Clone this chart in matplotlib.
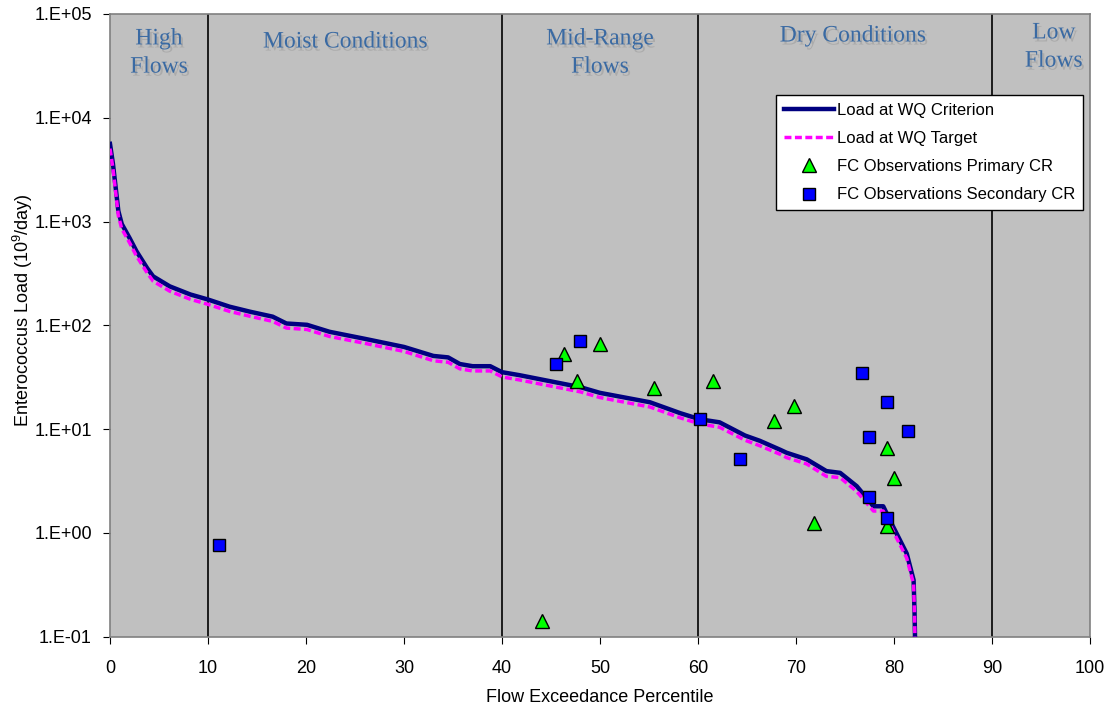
import matplotlib.pyplot as plt
import matplotlib.patheffects as pe

plt.rcParams["font.family"] = ["Liberation Sans", "DejaVu Sans"]
plt.rcParams["mathtext.fontset"] = "custom"
plt.rcParams["mathtext.rm"] = "Liberation Sans"
plt.rcParams["mathtext.default"] = "regular"

# load duration curve
flow_pct = [0, 0.3, 0.5, 0.85, 1.2, 2.0, 2.7, 3.8, 4.4, 6.1, 8.2, 10.0, 12.2, 14.3,
            16.6, 18.0, 20.1, 22.4, 26, 30, 33, 34.5, 35.7, 37, 38.8, 40, 41.8, 48,
            50, 55.1, 58.2, 60.2, 62.2, 64.8, 66.3, 68.4, 69.05, 71.1, 73.1, 74.5,
            76.2, 77.9, 78.9, 79.9, 81.3, 82.0, 82.1, 82.2]
load_criterion = [5600, 3600, 2470, 1265, 946, 692, 517, 354, 296, 237, 198, 177, 151, 135,
                  121, 104, 101, 86.5, 74, 61.8, 50.6, 49, 42.3, 40.3, 40.3, 35.3, 33, 25.3,
                  22.3, 18.1, 14.2, 12.4, 11.6, 8.65, 7.7, 6.3, 5.9, 5.1, 3.93, 3.78,
                  2.81, 1.80, 1.80, 1.15, 0.63, 0.35, 0.166, 0.05]
load_target = [5040, 3240, 2223, 1139, 851, 623, 465, 319, 266, 213, 178, 159, 136, 122,
               109, 94, 91, 78, 67, 56, 45.5, 44, 38, 36.3, 36.3, 31.8, 29.7, 22.8,
               20.1, 16.3, 12.8, 11.2, 10.4, 7.8, 6.9, 5.7, 5.3, 4.6, 3.5, 3.4,
               2.5, 1.62, 1.62, 1.04, 0.57, 0.32, 0.15, 0.045]

# observations
primary_x = [44.1, 46.3, 50.0, 47.7, 55.5, 61.5, 69.8, 67.8, 79.3, 80.0, 71.8, 79.3]
primary_y = [0.14, 53, 66.5, 28.7, 24.7, 28.7, 16.8, 12.0, 6.5, 3.4, 1.25, 1.15]
secondary_x = [11.1, 45.5, 48.0, 60.2, 64.3, 76.7, 79.3, 81.4, 77.4, 77.4, 79.3]
secondary_y = [0.76, 42.3, 70.7, 12.4, 5.1, 34.6, 18.1, 9.6, 8.3, 2.2, 1.38]

zone_bounds = [10, 40, 60, 90]
zone_names = ["High\nFlows", "Moist Conditions", "Mid-Range\nFlows", "Dry Conditions", "Low\nFlows"]
zone_x = [5, 24, 50, 75.8, 96.3]
zone_y = [53, 42, 53, 36, 47]   # pixels from top of figure

W, H = 1112, 715
ax_top, ax_bot = 14, 636.5

fig = plt.figure(figsize=(W / 100, H / 100), dpi=100)
ax = fig.add_axes([110 / W, 1 - ax_bot / H, 980 / W, (ax_bot - ax_top) / H])
ax.set_facecolor("#C0C0C0")

for b in zone_bounds:
    ax.axvline(b, color="black", lw=1.2, zorder=1)

ax.plot(flow_pct, load_criterion, color="#000080", lw=3.2, label="Load at WQ Criterion", zorder=3)
ax.plot(flow_pct, load_target, color="#FF00FF", lw=2.5, dashes=(2, 1), label="Load at WQ Target", zorder=4)
ax.plot(primary_x, primary_y, ls="none", marker="^", ms=10, mfc="#00FF00", mec="black", mew=1,
        label="FC Observations Primary CR", zorder=5)
ax.plot(secondary_x, secondary_y, ls="none", marker="s", ms=9, mfc="#0000FF", mec="black", mew=1,
        label="FC Observations Secondary CR", zorder=5)

ax.set_yscale("log")
ax.set_xlim(0, 100)
ax.set_ylim(0.1, 1e5)
ax.set_xticks(range(0, 101, 10))
ax.set_yticks([0.1, 1, 10, 100, 1000, 1e4, 1e5])
ax.set_yticklabels(["1.E-01", "1.E+00", "1.E+01", "1.E+02", "1.E+03", "1.E+04", "1.E+05"])
ax.minorticks_off()
ax.tick_params(axis="both", labelsize=13, length=5, direction="out", color="black")
ax.tick_params(axis="x", pad=12)
ax.tick_params(axis="y", pad=8)
for s in ax.spines.values():
    s.set_color("#808080")
    s.set_linewidth(1.2)

ax.set_xlabel("Flow Exceedance Percentile", fontsize=13, va="top")
ax.xaxis.set_label_coords(0.5, (ax_bot - 689) / (ax_bot - ax_top))
ax.set_ylabel("Enterococcus Load (10$^9$/day)", fontsize=13)
ax.yaxis.set_label_coords((35 - 110) / 980, 0.525)

# zone labels with a soft grey shadow
shadow = [pe.SimplePatchShadow(offset=(1.5, -2.2), shadow_rgbFace="#ABABAB", alpha=1), pe.Normal()]
for name, zx, zy in zip(zone_names, zone_x, zone_y):
    ty = (ax_bot - zy) / (ax_bot - ax_top)
    ax.text(zx / 100, ty, name, transform=ax.transAxes, color="#3A6AA3", ha="center", va="center",
            fontsize=17, family="Liberation Serif", linespacing=1.45, zorder=2.5,
            path_effects=shadow)

leg = ax.legend(loc="upper right", bbox_to_anchor=((1083 - 110) / 980, (ax_bot - 95) / (ax_bot - ax_top)),
                borderaxespad=0, fontsize=12, frameon=True, fancybox=False, edgecolor="black",
                framealpha=1, handlelength=3.0, handletextpad=0.2, borderpad=0.45, labelspacing=0.8)
leg.get_frame().set_linewidth(1)

plt.savefig("out.png", dpi=100)
